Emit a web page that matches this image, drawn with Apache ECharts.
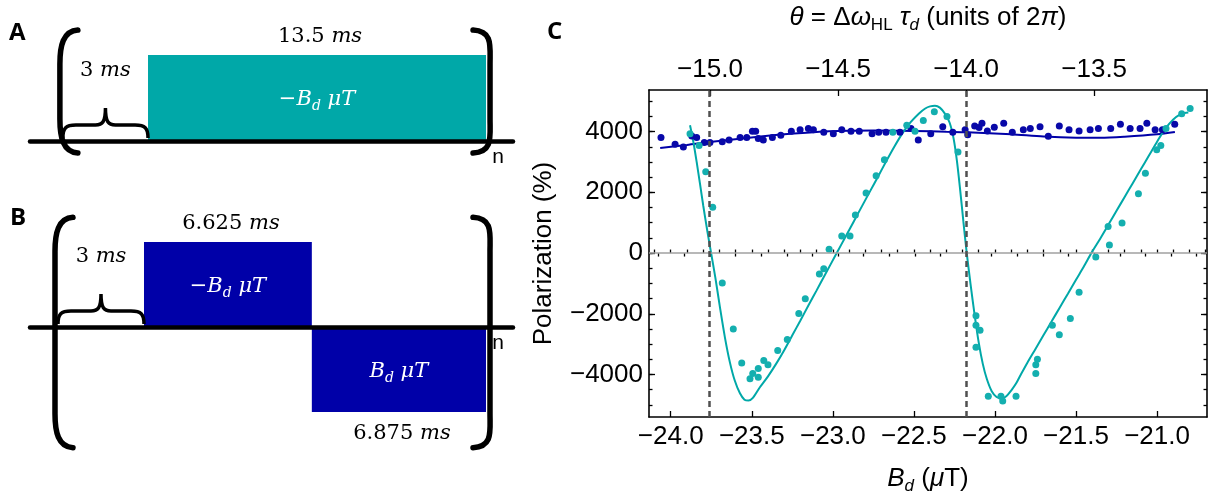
<!DOCTYPE html>
<html>
<head>
<meta charset="utf-8">
<script src="https://cdn.jsdelivr.net/npm/echarts@6/dist/echarts.min.js"></script>
<style>
  html, body { margin: 0; padding: 0; background: #fff; }
  #chart { width: 1209px; height: 500px; }
</style>
</head>
<body>
<div id="chart"></div>
<script>
// ---- Pulse sequences (times in ms). Level +1 is the −B_d pulse, −1 the +B_d pulse.
const delayMs = 3;
const pulseDurationsA = [13.5];
const pulseLevelsA = [1];
const pulseDurationsB = [6.625, 6.875];
const pulseLevelsB = [1, -1];

// ---- Polarization (%) against B_d (µT), sequence A (teal)
const fieldA = [-23.881, -23.825, -23.784, -23.741, -23.682, -23.614, -23.562, -23.511, -23.494, -23.460,
  -23.460, -23.426, -23.400, -23.340, -23.281, -23.210, -23.170, -23.083, -23.056, -23.023,
  -22.945, -22.894, -22.861, -22.795, -22.733, -22.682, -22.630, -22.544, -22.493, -22.442,
  -22.374, -22.296, -22.228, -22.117, -22.117, -22.092, -22.117, -22.041, -21.963, -21.952,
  -21.870, -21.748, -21.748, -21.738, -21.646, -21.603, -21.535, -21.481, -21.378, -21.294,
  -21.302, -21.216, -21.115, -21.072, -21.002, -20.977, -20.945, -20.848, -20.796];
const polA = [3928, 3544, 2678, 1512, -988, -2500, -3625, -4144, -3969, -4094,
  -3800, -3541, -3675, -3206, -2844, -1988, -1509, -687, -519, 125,
  563, 563, 1250, 1981, 2544, 3075, 3981, 4209, 4011, 4366,
  4656, 4500, 3325, -2063, -2375, -2541, -3103, -4719, -4719, -4875,
  -4719, -3969, -3675, -3500, -2375, -2688, -2156, -1291, -134, 263,
  875, 991, 1950, 2625, 3406, 3544, 4106, 4584, 4763];

// ---- Polarization (%) against B_d (µT), sequence B (dark blue)
const fieldB = [-24.060, -23.973, -23.922, -23.870, -23.840, -23.793, -23.758, -23.682, -23.640, -23.572,
  -23.531, -23.496, -23.476, -23.460, -23.429, -23.373, -23.321, -23.256, -23.202, -23.151,
  -23.120, -23.056, -22.997, -22.945, -22.888, -22.837, -22.758, -22.717, -22.672, -22.586,
  -22.518, -22.473, -22.396, -22.322, -22.260, -22.184, -22.168, -22.125, -22.098, -22.080,
  -22.047, -22.004, -21.946, -21.893, -21.825, -21.782, -21.722, -21.671, -21.603, -21.543,
  -21.481, -21.413, -21.362, -21.286, -21.226, -21.166, -21.105, -21.063, -21.012, -20.967,
  -20.891];
const polB = [3803, 3584, 3490, 3856, 3803, 3637, 3637, 3668, 3720, 3803,
  3803, 4011, 4011, 3772, 3720, 3803, 3876, 4011, 4063, 4106,
  4063, 3981, 3928, 4063, 4011, 4011, 3928, 3981, 3981, 3981,
  4106, 3720, 3928, 4156, 3981, 4063, 3897, 4188, 4138, 4272,
  4022, 4147, 4272, 3981, 4063, 4106, 4156, 3844, 4188, 4063,
  4022, 4063, 4106, 4106, 4241, 4106, 4106, 4272, 4063, 4063,
  4241];

// ---- Model curves
const fitFieldA = [-23.881, -23.860, -23.840, -23.820, -23.799, -23.775, -23.751, -23.725, -23.696, -23.665,
  -23.635, -23.605, -23.573, -23.545, -23.520, -23.495, -23.450, -23.400, -23.350, -23.300,
  -23.250, -23.200, -23.150, -23.100, -23.050, -22.976, -22.920, -22.870, -22.820, -22.770,
  -22.720, -22.670, -22.620, -22.570, -22.520, -22.470, -22.430, -22.400, -22.370, -22.340,
  -22.310, -22.280, -22.255, -22.235, -22.215, -22.195, -22.174, -22.150, -22.125, -22.100,
  -22.075, -22.050, -22.020, -21.990, -21.958, -21.930, -21.900, -21.870, -21.840, -21.800,
  -21.750, -21.700, -21.650, -21.600, -21.550, -21.500, -21.450, -21.403, -21.350, -21.300,
  -21.250, -21.200, -21.150, -21.100, -21.050, -21.000, -20.950, -20.900, -20.860, -20.830, -20.807];
const fitPolA = [4209, 3650, 3000, 2300, 1550, 750, 0, -800, -1800, -2800,
  -3600, -4200, -4620, -4830, -4860, -4780, -4420, -4060, -3650, -3200,
  -2710, -2220, -1720, -1230, -730, 0, 555, 1050, 1545, 2040,
  2530, 3030, 3510, 3950, 4310, 4590, 4760, 4830, 4850, 4790,
  4600, 4300, 3770, 3050, 2100, 1050, 0, -1050, -2050, -2950,
  -3650, -4150, -4550, -4740, -4790, -4720, -4530, -4300, -4000, -3613,
  -3158, -2700, -2250, -1790, -1340, -880, -430, 22, 482, 937,
  1392, 1847, 2302, 2757, 3212, 3667, 4090, 4400, 4560, 4610, 4625];
const fitFieldB = [-24.065, -23.900, -23.760, -23.530, -23.300, -23.100, -22.900, -22.750, -22.500, -22.300,
  -22.170, -21.900, -21.700, -21.500, -21.350, -21.200, -21.000, -20.890];
const fitPolB = [3460, 3560, 3660, 3790, 3910, 3990, 4025, 4035, 4020, 3995,
  3980, 3910, 3840, 3800, 3795, 3830, 3910, 3990];

// ---- Axis ticks
const fieldTicks = [-24.0, -23.5, -23.0, -22.5, -22.0, -21.5, -21.0];
const thetaTicks = [-15.0, -14.5, -14.0, -13.5];
const polTicks = [-4000, -2000, 0, 2000, 4000];
const resonanceTheta = [-15, -14];

// θ = Δω_HL τ_d in units of 2π, linear in B_d
const fieldPerTurn = 1.58;      // µT per 2π
const refTheta = -15;
const refField = -23.758;
const thetaOf = b => refTheta + (b - refField) / fieldPerTurn;
const fieldOf = t => refField + (t - refTheta) * fieldPerTurn;

// ---- Layout
const fieldMin = -24.134, fieldMax = -20.692;
const polMin = -5400, polMax = 5370;
const TEAL = '#00a8a8', TEAL_PT = '#14afaf';
const NAVY = '#0000a8', NAVY_PT = '#0808a8';
const SERIF = '"DejaVu Serif", "Liberation Serif", serif';
const SANS = '"Liberation Sans", Arial, sans-serif';

const minus = v => (v < 0 ? '\u2212' : '') + Math.abs(v);
const fmt1 = v => (v < 0 ? '\u2212' : '') + Math.abs(v).toFixed(1);
function minorValues(min, max, step) {
  const out = [];
  for (let k = Math.ceil(min / step - 1e-9); k * step <= max + 1e-9; k++) out.push(+(k * step).toFixed(6));
  return out;
}

function pulseData(durations, levels) {
  let t = delayMs;
  return durations.map((d, i) => { const s = t; t += d; return [s, t, levels[i], d]; });
}
const sum = a => a.reduce((p, c) => p + c, 0);

function serifRich(color, size) {
  return {
    n: { fontFamily: SERIF, fontSize: size, fill: color, lineHeight: size + 6 },
    i: { fontFamily: SERIF, fontStyle: 'italic', fontSize: size, fill: color, lineHeight: size + 6 },
    s: { fontFamily: SERIF, fontStyle: 'italic', fontSize: Math.round(size * 0.66), fill: color,
         lineHeight: Math.round(size * 0.66), verticalAlign: 'bottom' }
  };
}

// Rectangular field pulses with their amplitude and duration labels
function renderPulse(params, api) {
  const t0 = api.value(0), t1 = api.value(1), lvl = api.value(2), dur = api.value(3);
  const p0 = api.coord([t0, 0]);
  const p1 = api.coord([t1, lvl]);
  const x = p0[0], w = p1[0] - p0[0];
  const y = Math.min(p0[1], p1[1]), h = Math.abs(p1[1] - p0[1]);
  const cx = x + w / 2;
  const amp = lvl > 0 ? '{n|\u2212}{i|B}{s|d}{i| \u03bcT}' : '{i|B}{s|d}{i| \u03bcT}';
  const durY = lvl > 0 ? y - 18 : y + h + 22;
  return {
    type: 'group',
    children: [
      { type: 'rect', shape: { x: x, y: y, width: w, height: h }, style: { fill: api.visual('color') } },
      { type: 'text', x: cx, y: y + h / 2 + 2,
        style: { text: amp, rich: serifRich('#ffffff', 21), align: 'center', verticalAlign: 'middle' } },
      { type: 'text', x: cx + 3, y: durY,
        style: { text: '{n|' + dur + '}{i| ms}', rich: serifRich('#000000', 21), align: 'center', verticalAlign: 'middle' } }
    ]
  };
}

// Repetition brackets, delay brace and repeat count
function makeFrameRenderer(bracketTop, bracketBottom) {
  return function (params, api) {
    const tEnd = api.value(1);
    const base = api.coord([0, 0]);
    const end = api.coord([tEnd, 0]);
    const pulseStart = api.coord([delayMs, 0]);
    const yTop = api.coord([0, bracketTop])[1];
    const yBot = api.coord([0, bracketBottom])[1];
    const lb = base[0] - 13, le = lb + 18;
    const rb = end[0] + 4, re = rb - 17;
    const paren = (xb, xe) =>
      `M${xe},${yTop} C${xb + 3},${yTop + 1} ${xb},${yTop + 16} ${xb},${yTop + 34} ` +
      `L${xb},${yBot - 34} C${xb},${yBot - 16} ${xb + 3},${yBot - 1} ${xe},${yBot}`;
    const x1 = lb + 3, x2 = pulseStart[0];
    const yb = base[1] - 3, ym = yb - 13, yt = yb - 30, mid = (x1 + x2) / 2;
    const brace =
      `M${x1},${yb} C${x1},${ym + 3} ${x1 + 3},${ym} ${x1 + 13},${ym} L${mid - 10},${ym} ` +
      `C${mid - 3},${ym} ${mid},${ym - 3} ${mid},${yt} C${mid},${ym - 3} ${mid + 3},${ym} ${mid + 10},${ym} ` +
      `L${x2 - 13},${ym} C${x2 - 3},${ym} ${x2},${ym + 3} ${x2},${yb}`;
    const lineStyle = { stroke: '#000', lineWidth: 5.5, fill: 'none', lineCap: 'round' };
    return {
      type: 'group',
      children: [
        { type: 'path', shape: { pathData: paren(lb, le) }, style: lineStyle },
        { type: 'path', shape: { pathData: paren(rb, re) }, style: lineStyle },
        { type: 'path', shape: { pathData: brace }, style: { stroke: '#000', lineWidth: 3.5, fill: 'none' } },
        { type: 'text', x: mid, y: yt - 37,
          style: { text: '{n|' + delayMs + '}{i| ms}', rich: serifRich('#000000', 21), align: 'center', verticalAlign: 'middle' } },
        { type: 'text', x: rb + 8, y: base[1] + 16,
          style: { text: 'n', fontFamily: SANS, fontSize: 21, fill: '#000', align: 'center', verticalAlign: 'middle' } }
      ]
    };
  };
}

const seqAxisCommon = {
  type: 'value', axisTick: { show: false }, axisLabel: { show: false }, splitLine: { show: false },
  axisLine: { show: true, onZero: true, lineStyle: { color: '#000', width: 4.5 } }, z: 5
};
const hiddenY = { type: 'value', show: false, splitLine: { show: false } };

const tickLine = { color: '#000', width: 1.3 };
const frameLine = { show: true, onZero: false, lineStyle: { color: '#000', width: 1.6 } };
const labelFont = { fontFamily: SANS, fontSize: 26, color: '#000' };

const nameRich = {
  n: { fontFamily: SANS, fontSize: 26, color: '#000', lineHeight: 32 },
  i: { fontFamily: SANS, fontSize: 26, fontStyle: 'italic', color: '#000', lineHeight: 32 },
  s: { fontFamily: SANS, fontSize: 17, color: '#000', lineHeight: 17, verticalAlign: 'bottom' },
  si: { fontFamily: SANS, fontSize: 17, fontStyle: 'italic', color: '#000', lineHeight: 17, verticalAlign: 'bottom' }
};

const thetaMin = thetaOf(fieldMin), thetaMax = thetaOf(fieldMax);
const letterFont = 'bold 24px "Open Sans", sans-serif';

const option = {
  animation: false,
  backgroundColor: '#fff',
  graphic: [
    { type: 'text', left: 9, top: 21, style: { text: 'A', font: letterFont, fill: '#000' } },
    { type: 'text', left: 10, top: 206, style: { text: 'B', font: letterFont, fill: '#000' } },
    { type: 'text', left: 547, top: 20, style: { text: 'C', font: letterFont, fill: '#000' } }
  ],
  grid: [
    { left: 30, width: 483, top: 29.2, height: 154.8 },
    { left: 30, width: 483, top: 199.5, height: 255 },
    { left: 649, right: 2, top: 79, bottom: 76 }
  ],
  xAxis: [
    Object.assign({ gridIndex: 0, min: -1.713, max: 17.577 }, seqAxisCommon),
    Object.assign({ gridIndex: 1, min: -1.5, max: 17.566 }, seqAxisCommon),
    { // B_d axis
      type: 'value', gridIndex: 2, position: 'bottom', min: fieldMin, max: fieldMax,
      axisLine: frameLine, splitLine: { show: false },
      axisTick: { inside: true, length: 6, lineStyle: tickLine, customValues: fieldTicks },
      axisLabel: Object.assign({ margin: 7, customValues: fieldTicks, formatter: fmt1 }, labelFont),
      name: '{i|B}{si|d}{n| (}{i|\u03bc}{n|T)}', nameLocation: 'middle', nameGap: 46,
      nameTextStyle: { rich: nameRich }
    },
    { // θ axis
      type: 'value', gridIndex: 2, position: 'top', min: thetaMin, max: thetaMax,
      axisLine: frameLine, splitLine: { show: false },
      axisTick: { inside: true, length: 6, lineStyle: tickLine, customValues: thetaTicks },
      axisLabel: Object.assign({ margin: 7, customValues: thetaTicks, formatter: fmt1 }, labelFont),
      name: '{i|\u03b8}{n| = \u0394}{i|\u03c9}{s|HL}{n| }{i|\u03c4}{si|d}{n| (units of 2}{i|\u03c0}{n|)}',
      nameLocation: 'middle', nameGap: 56, nameTextStyle: { rich: nameRich }
    },
    {
      type: 'value', gridIndex: 2, position: 'bottom', min: fieldMin, max: fieldMax,
      axisLine: { show: false }, splitLine: { show: false }, axisLabel: { show: false },
      axisTick: { inside: true, length: 3.5, lineStyle: tickLine, customValues: minorValues(fieldMin, fieldMax, 0.1) }
    },
    {
      type: 'value', gridIndex: 2, position: 'top', min: thetaMin, max: thetaMax,
      axisLine: { show: false }, splitLine: { show: false }, axisLabel: { show: false },
      axisTick: { inside: true, length: 3.5, lineStyle: tickLine, customValues: minorValues(thetaMin, thetaMax, 0.1) }
    }
  ],
  yAxis: [
    Object.assign({ gridIndex: 0, min: -0.5, max: 1.3 }, hiddenY),
    Object.assign({ gridIndex: 1, min: -1.5, max: 1.5 }, hiddenY),
    {
      type: 'value', gridIndex: 2, position: 'left', min: polMin, max: polMax,
      axisLine: frameLine, splitLine: { show: false },
      axisTick: { inside: true, length: 6, lineStyle: tickLine, customValues: polTicks },
      axisLabel: Object.assign({ margin: 6, customValues: polTicks, formatter: minus }, labelFont),
      name: 'Polarization (%)', nameLocation: 'middle', nameGap: 92,
      nameTextStyle: { fontFamily: SANS, fontSize: 26, color: '#000' }
    },
    {
      type: 'value', gridIndex: 2, position: 'right', min: polMin, max: polMax,
      axisLine: frameLine, splitLine: { show: false }, axisLabel: { show: false },
      axisTick: { inside: true, length: 6, lineStyle: tickLine, customValues: polTicks }
    },
    {
      type: 'value', gridIndex: 2, position: 'left', min: polMin, max: polMax,
      axisLine: { show: false }, splitLine: { show: false }, axisLabel: { show: false },
      axisTick: { inside: true, length: 3.5, lineStyle: tickLine, customValues: minorValues(polMin, polMax, 500) }
    },
    {
      type: 'value', gridIndex: 2, position: 'right', min: polMin, max: polMax,
      axisLine: { show: false }, splitLine: { show: false }, axisLabel: { show: false },
      axisTick: { inside: true, length: 3.5, lineStyle: tickLine, customValues: minorValues(polMin, polMax, 500) }
    }
  ],
  series: [
    // Sequence A
    { type: 'custom', xAxisIndex: 0, yAxisIndex: 0, renderItem: renderPulse, itemStyle: { color: TEAL },
      data: pulseData(pulseDurationsA, pulseLevelsA), z: 2 },
    { type: 'custom', xAxisIndex: 0, yAxisIndex: 0, renderItem: makeFrameRenderer(1.29, -0.14),
      data: [[0, delayMs + sum(pulseDurationsA)]], z: 6 },
    // Sequence B
    { type: 'custom', xAxisIndex: 1, yAxisIndex: 1, renderItem: renderPulse, itemStyle: { color: NAVY },
      data: pulseData(pulseDurationsB, pulseLevelsB), z: 2 },
    { type: 'custom', xAxisIndex: 1, yAxisIndex: 1, renderItem: makeFrameRenderer(1.29, -1.42),
      data: [[0, delayMs + sum(pulseDurationsB)]], z: 6 },

    // Panel C: model curves with reference lines
    { type: 'line', xAxisIndex: 2, yAxisIndex: 2, showSymbol: false, smooth: 0.3, z: 3,
      lineStyle: { color: NAVY, width: 2 }, itemStyle: { color: NAVY },
      data: fitFieldB.map((b, i) => [b, fitPolB[i]]),
      markLine: { silent: true, symbol: 'none', label: { show: false },
        lineStyle: { color: '#a0a0a0', width: 1.5, type: 'solid' }, data: [{ yAxis: 0 }] } },
    { type: 'line', xAxisIndex: 2, yAxisIndex: 2, showSymbol: false, smooth: 0.3, z: 3,
      lineStyle: { color: TEAL, width: 2 }, itemStyle: { color: TEAL },
      data: fitFieldA.map((b, i) => [b, fitPolA[i]]),
      markLine: { silent: true, symbol: 'none', label: { show: false },
        lineStyle: { color: '#505050', width: 2.5, type: [6, 4] },
        data: resonanceTheta.map(t => ({ xAxis: fieldOf(t) })) } },
    { type: 'scatter', xAxisIndex: 2, yAxisIndex: 2, symbolSize: 7, z: 4,
      itemStyle: { color: NAVY_PT, opacity: 1 }, data: fieldB.map((b, i) => [b, polB[i]]) },
    { type: 'scatter', xAxisIndex: 2, yAxisIndex: 2, symbolSize: 7, z: 4,
      itemStyle: { color: TEAL_PT, opacity: 1 }, data: fieldA.map((b, i) => [b, polA[i]]) }
  ]
};

const chart = echarts.init(document.getElementById('chart'), null, { renderer: 'canvas' });
chart.setOption(option);
</script>
</body>
</html>
